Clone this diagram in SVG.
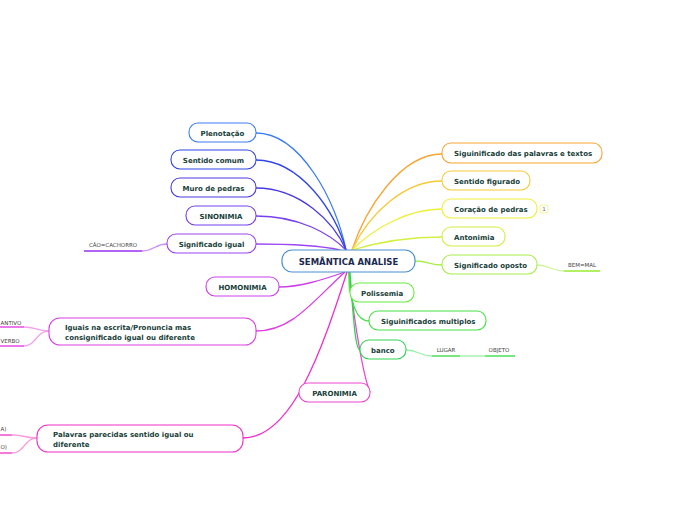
<svg xmlns="http://www.w3.org/2000/svg" width="696" height="520" viewBox="0 0 696 520">
<style>
.n{fill:#fff;stroke-width:1.1}
.t{font-family:"DejaVu Sans",Verdana,sans-serif;font-weight:bold;font-size:7px;fill:#17403a}
.s{font-family:"DejaVu Sans",Verdana,sans-serif;font-size:5.5px;fill:#444}
.c path{fill:none;stroke-width:1.3}
.u{stroke-width:1.6;fill:none}
</style>
<rect width="696" height="520" fill="#fff"/>
<g id="connectors" class="c">
<path d="M256,133 C300,133 336,200 346,250" stroke="#3b7cf4"/>
<path d="M256,160 C300,160 336,212 346,250" stroke="#2f44ea"/>
<path d="M256,188 C300,188 334,222 346,250" stroke="#4a3be0"/>
<path d="M256,216 C300,216 330,234 346,250" stroke="#7640ee"/>
<path d="M256,244 C290,244 322,246 340,250" stroke="#9c44f2"/>
<path d="M345,272 C322,280 300,287 279,287" stroke="#cc40ea"/>
<path d="M345,272 C312,302 292,331 256,331" stroke="#dd3ee4"/>
<path d="M347,272 C322,350 292,438 243,438" stroke="#f030c8"/>
<path d="M349,272 C355,330 364,378 370,392" stroke="#f044d4"/>
<path d="M352,250 C365,210 400,154 442,154" stroke="#f7a432"/>
<path d="M352,250 C370,212 405,181 442,181" stroke="#f8c836"/>
<path d="M352,250 C376,226 410,209 442,209" stroke="#eef036"/>
<path d="M352,250 C382,241 410,237 442,237" stroke="#d2f040"/>
<path d="M415,261 C428,261 430,265 442,265" stroke="#a8ee48"/>
<path d="M349,272 C349,285 349,293 351,293" stroke="#62ee40"/>
<path d="M349,272 C350,302 356,321 369,321" stroke="#44e244"/>
<path d="M350,272 C353,312 355,350 360,350" stroke="#30d452"/>
<path d="M167,244 C155,244 154,251 142,251" stroke="#c790f7" stroke-width="1"/>
<path d="M49,331 C36,331 36,327 24,327" stroke="#f4a0ec" stroke-width="1"/>
<path d="M49,331 C36,331 36,346 24,346" stroke="#f4a0ec" stroke-width="1"/>
<path d="M37,438 C25,438 24,435 12,435" stroke="#f79cdc" stroke-width="1"/>
<path d="M37,438 C25,438 24,453 12,453" stroke="#f79cdc" stroke-width="1"/>
<path d="M537,265 C550,265 551,271 564,271" stroke="#cdf4a0" stroke-width="1"/>
<path d="M406,350 C419,350 419,356 432,356" stroke="#9cf0a8" stroke-width="1"/>
<path d="M460,356 L485,356" stroke="#9cf0a8" stroke-width="1"/>
<path d="M84,251 L142,251" class="u" stroke="#9a30f0"/>
<path d="M0,327 L24,327" class="u" stroke="#e030e0"/>
<path d="M0,346 L24,346" class="u" stroke="#e030e0"/>
<path d="M0,435 L12,435" class="u" stroke="#f030c0"/>
<path d="M0,453 L12,453" class="u" stroke="#f030c0"/>
<path d="M564,271 L600,271" class="u" stroke="#98ec30"/>
<path d="M432,356 L460,356" class="u" stroke="#30d83a"/>
<path d="M485,356 L515,356" class="u" stroke="#30d83a"/>
</g>
<g id="central"><rect x="282" y="250" width="133" height="22" rx="10" fill="#fff" stroke="#4a90d0" stroke-width="1.2"/><text x="348.5" y="264.5" text-anchor="middle" font-family="DejaVu Sans,Verdana,sans-serif" font-weight="bold" font-size="8.5" fill="#1c2a50">SEMÂNTICA ANALISE</text></g>
<g id="plenotacao"><rect class="n" x="189" y="123" width="67" height="19" rx="9" stroke="#3b7cf4"/><text class="t" x="222.5" y="135.5" text-anchor="middle">Plenotação</text></g>
<g id="sentido-comum"><rect class="n" x="171" y="150" width="85" height="19" rx="9" stroke="#2f44ea"/><text class="t" x="213.5" y="162.5" text-anchor="middle">Sentido comum</text></g>
<g id="muro"><rect class="n" x="171" y="178" width="85" height="19" rx="9" stroke="#4a3be0"/><text class="t" x="213.5" y="190.5" text-anchor="middle">Muro de pedras</text></g>
<g id="sinonimia"><rect class="n" x="186" y="206" width="70" height="19" rx="9" stroke="#7640ee"/><text class="t" x="221" y="218.5" text-anchor="middle">SINONIMIA</text></g>
<g id="significado-igual"><rect class="n" x="167" y="234" width="89" height="19" rx="9" stroke="#9c44f2"/><text class="t" x="211.5" y="246.5" text-anchor="middle">Significado igual</text></g>
<g id="cao"><text class="s" x="113" y="246.5" text-anchor="middle">CÃO=CACHORRO</text></g>
<g id="homonimia"><rect class="n" x="206" y="277" width="73" height="19" rx="9" stroke="#cc40ea"/><text class="t" x="242.5" y="289.5" text-anchor="middle">HOMONIMIA</text></g>
<g id="iguais"><rect class="n" x="49" y="318" width="207" height="27" rx="11" stroke="#dd3ee4"/><text class="t" x="65" y="330">Iguais na escrita/Pronuncia mas</text><text class="t" x="65" y="339.5">consignificado igual ou diferente</text></g>
<g id="ntivo"><text class="s" x="0.5" y="324.5">ANTIVO</text></g>
<g id="verbo"><text class="s" x="0.5" y="343">VERBO</text></g>
<g id="paronimia"><rect class="n" x="299" y="383" width="71" height="19" rx="9" stroke="#f044d4"/><text class="t" x="334.5" y="395.5" text-anchor="middle">PARONIMIA</text></g>
<g id="palavras"><rect class="n" x="37" y="425" width="206" height="27" rx="11" stroke="#f030c8"/><text class="t" x="53" y="437">Palavras parecidas sentido igual ou</text><text class="t" x="53" y="446.5">diferente</text></g>
<g id="a"><text class="s" x="0.5" y="431">A)</text></g>
<g id="o"><text class="s" x="0.5" y="449">O)</text></g>
<g id="siguinificado"><rect class="n" x="442" y="143" width="160" height="20" rx="9" stroke="#f7a432"/><text class="t" x="454" y="156">Siguinificado das palavras e textos</text></g>
<g id="sentido-figurado"><rect class="n" x="442" y="171" width="88" height="19" rx="9" stroke="#f8c836"/><text class="t" x="454" y="183.5">Sentido figurado</text></g>
<g id="coracao"><rect class="n" x="442" y="199" width="95" height="19" rx="9" stroke="#eef036"/><text class="t" x="454" y="211.5">Coração de pedras</text><rect x="540" y="205" width="8" height="8" rx="2" fill="#fff" stroke="#f4f080" stroke-width="0.8"/><text x="544" y="211" text-anchor="middle" font-family="DejaVu Sans,sans-serif" font-size="5" fill="#555">1</text></g>
<g id="antonimia"><rect class="n" x="442" y="227" width="63" height="19" rx="9" stroke="#d2f040"/><text class="t" x="454" y="239.5">Antonimia</text></g>
<g id="significado-oposto"><rect class="n" x="442" y="255" width="95" height="19" rx="9" stroke="#a8ee48"/><text class="t" x="454" y="267.5">Significado oposto</text></g>
<g id="bem"><text class="s" x="582" y="267" text-anchor="middle">BEM=MAL</text></g>
<g id="polissemia"><rect class="n" x="350" y="283" width="64" height="19" rx="9" stroke="#62ee40"/><text class="t" x="361" y="295.5">Polissemia</text></g>
<g id="multiplos"><rect class="n" x="369" y="311" width="117" height="19" rx="9" stroke="#44e244"/><text class="t" x="381" y="323.5">Siguinificados multiplos</text></g>
<g id="banco"><rect class="n" x="360" y="340" width="46" height="19" rx="9" stroke="#30d452"/><text class="t" x="371" y="352.5">banco</text></g>
<g id="lugar"><text class="s" x="446" y="352" text-anchor="middle">LUGAR</text></g>
<g id="objeto"><text class="s" x="499" y="352" text-anchor="middle">OBJETO</text></g>
</svg>
